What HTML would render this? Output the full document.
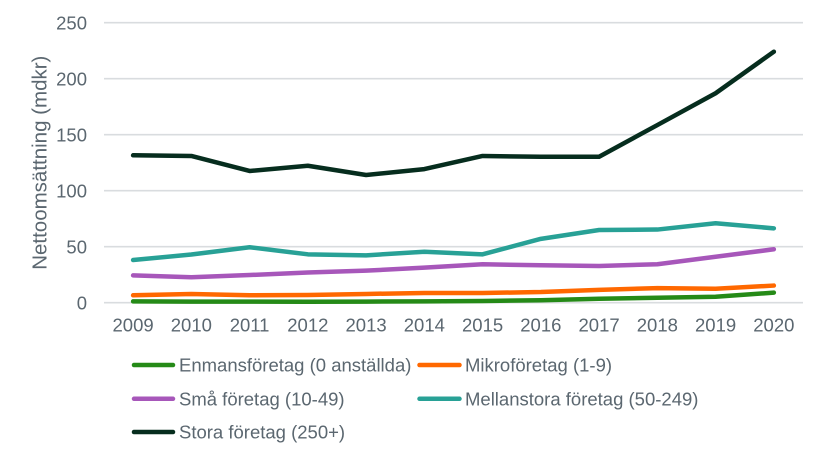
<!DOCTYPE html>
<html>
<head>
<meta charset="utf-8">
<style>
html,body{margin:0;padding:0;background:#fff;}
svg{display:block;}
text{font-family:"Liberation Sans",Arial,sans-serif;fill:#5b6770;}
</style>
</head>
<body>
<svg width="827" height="458" viewBox="0 0 827 458" xmlns="http://www.w3.org/2000/svg">
  <rect width="827" height="458" fill="#fff"/>
  <!-- gridlines -->
  <g stroke="#d9dcdf" stroke-width="1.6">
    <line x1="104" y1="22.7" x2="803" y2="22.7"/>
    <line x1="104" y1="78.7" x2="803" y2="78.7"/>
    <line x1="104" y1="134.7" x2="803" y2="134.7"/>
    <line x1="104" y1="190.7" x2="803" y2="190.7"/>
    <line x1="104" y1="246.7" x2="803" y2="246.7"/>
    <line x1="104" y1="302.7" x2="803" y2="302.7"/>
  </g>
  <!-- y tick labels -->
  <g font-size="18.5" text-anchor="end">
    <text x="87" y="29.3">250</text>
    <text x="87" y="85.3">200</text>
    <text x="87" y="141.3">150</text>
    <text x="87" y="197.3">100</text>
    <text x="87" y="253.3">50</text>
    <text x="87" y="309.3">0</text>
  </g>
  <!-- x tick labels -->
  <g font-size="18.5" text-anchor="middle">
    <text x="133.1" y="331.5">2009</text>
    <text x="191.35" y="331.5">2010</text>
    <text x="249.6" y="331.5">2011</text>
    <text x="307.85" y="331.5">2012</text>
    <text x="366.1" y="331.5">2013</text>
    <text x="424.35" y="331.5">2014</text>
    <text x="482.6" y="331.5">2015</text>
    <text x="540.85" y="331.5">2016</text>
    <text x="599.1" y="331.5">2017</text>
    <text x="657.35" y="331.5">2018</text>
    <text x="715.6" y="331.5">2019</text>
    <text x="773.85" y="331.5">2020</text>
  </g>
  <!-- axis title -->
  <text font-size="20.5" text-anchor="middle" transform="translate(46.5,162.7) rotate(-90)">Nettoomsättning (mdkr)</text>
  <!-- series -->
  <g fill="none" stroke-width="4.5" stroke-linejoin="round" stroke-linecap="round">
    <polyline stroke="#258a17" points="133.1,301.36 191.35,301.58 249.6,301.58 307.85,301.69 366.1,301.58 424.35,301.36 482.6,301.02 540.85,300.24 599.1,298.78 657.35,297.77 715.6,296.76 773.85,292.62"/>
    <polyline stroke="#ff6800" points="133.1,295.31 191.35,293.96 249.6,295.31 307.85,294.97 366.1,293.96 424.35,292.96 482.6,292.96 540.85,292.06 599.1,289.82 657.35,288.14 715.6,288.7 773.85,285.56"/>
    <polyline stroke="#a757ba" points="133.1,275.37 191.35,277.28 249.6,275.04 307.85,272.46 366.1,270.67 424.35,267.64 482.6,264.28 540.85,265.29 599.1,265.96 657.35,264.28 715.6,256.78 773.85,249.28"/>
    <polyline stroke="#28a196" points="133.1,260.03 191.35,254.54 249.6,247.26 307.85,254.32 366.1,255.32 424.35,251.74 482.6,254.32 540.85,238.86 599.1,230.01 657.35,229.56 715.6,223.29 773.85,228.33"/>
    <polyline stroke="#062d1e" points="133.1,155.31 191.35,155.98 249.6,170.99 307.85,165.72 366.1,175.02 424.35,169.08 482.6,155.98 540.85,156.76 599.1,156.76 657.35,125.07 715.6,93.26 773.85,51.71"/>
  </g>
  <!-- legend -->
  <g stroke-width="4.5" stroke-linecap="round">
    <line x1="134" y1="365" x2="173" y2="365" stroke="#258a17"/>
    <line x1="419.5" y1="365" x2="459.5" y2="365" stroke="#ff6800"/>
    <line x1="134" y1="398.8" x2="173" y2="398.8" stroke="#a757ba"/>
    <line x1="419.5" y1="398.8" x2="459.5" y2="398.8" stroke="#28a196"/>
    <line x1="134" y1="432" x2="173" y2="432" stroke="#062d1e"/>
  </g>
  <g font-size="18.5">
    <text x="179" y="371.6">Enmansföretag (0 anställda)</text>
    <text x="465" y="371.6">Mikroföretag (1-9)</text>
    <text x="179" y="405.4">Små företag (10-49)</text>
    <text x="465" y="405.4">Mellanstora företag (50-249)</text>
    <text x="179" y="438.6">Stora företag (250+)</text>
  </g>
</svg>
</body>
</html>
